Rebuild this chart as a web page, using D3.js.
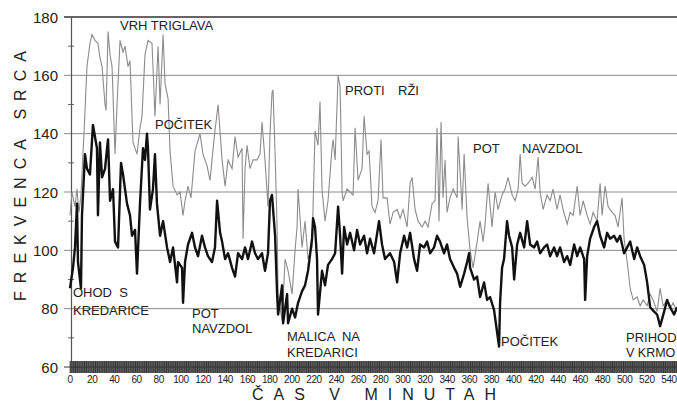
<!DOCTYPE html>
<html><head><meta charset="utf-8">
<script src="https://cdn.jsdelivr.net/npm/d3@7"></script>
<style>body{margin:0;background:#fff}svg{display:block}text{font-family:"Liberation Sans",Arial,sans-serif}</style>
</head><body><svg id="c" width="677" height="402"></svg>
<script>
const yTicks=[60,80,100,120,140,160,180];
const yMinor=[70,90,110,130,150,170];
const xTicks=d3.range(0,541,20);
const grayMin=[0,1.8,4.5,6.3,8.1,9.9,12.6,15.3,18,19.8,22.5,25.2,27,28.9,31.6,32.5,34.3,36.1,37.9,40.6,42.4,45.1,47.8,49.6,52.3,54.1,56.8,60.4,63.1,64.9,67.6,70.3,73.9,74.8,76.6,79.4,81.2,83.9,85.7,88.4,90.2,92.9,96.5,99.2,101.9,103.7,106.4,109.1,112.7,117.2,119.9,123.5,126.2,128,130.7,133.5,137.1,139.8,142.5,146.1,148.8,151.5,155.1,156,157.8,159.6,162.3,165,168.6,171.3,173.1,175.8,178.5,180.3,182.1,183,184.9,186.7,187.6,191.2,193.9,196.6,200.2,202.9,204.7,205.6,209.2,211.9,214.6,218.2,220.9,223.6,225.4,227.2,229.9,232.6,236.2,237.2,239,241.7,243.5,245.3,246.2,249.8,252.5,255.2,257,259.7,263.3,265.1,267.8,269.6,272.3,275,277.7,280.4,282.2,285.8,288.5,291.3,294.9,297.6,300.3,303.9,306.6,308.4,311.1,313.8,317.4,320.1,322.8,326.4,329.1,330.9,332.7,334.5,336.3,338.1,339.9,342.6,345.4,349,349.9,353.5,355.3,358,360.7,363.4,367,369.7,372.4,374.2,376.9,380.5,383.2,385.9,389.5,392.2,394.9,398.6,401.3,404,405.8,407.6,410.3,413,416.6,419.3,422,423.8,426.5,430.1,432.8,435.5,439.1,441.8,444.5,448.2,450.9,453.6,457.2,459.9,462.6,466.2,468.9,471.6,475.2,477.9,479.7,482.4,485.1,488.7,491.4,494.1,497.7,499.5,502.3,505,507.7,511.3,514,516.7,520.3,523,525.7,529.3,532,534.7,538.3,541,543.7,547.3];
const grayBpm=[112,120,115,121,113,119,140,163,171,174,172,171,166,163,150,148,175,167,163,133,150,172,168,170,163,165,137,133,142,146,167,172,171,163,146,170,150,174,157,152,134,122,119,120,112,117,122,118,134,140,133,129,124,131,141,150,131,122,131,128,139,132,135,104,128,136,128,131,131,133,144,131,115,140,154,155,133,108,85,76,97,93,85,100,108,121,101,110,97,101,141,136,151,121,110,117,135,138,131,160,156,120,117,121,120,119,142,124,128,146,133,134,115,113,117,138,118,118,109,113,114,111,114,108,123,125,114,110,108,110,108,116,117,142,110,144,118,131,113,118,121,118,139,114,133,111,100,94,103,110,103,109,123,108,120,114,119,121,125,119,117,121,133,123,122,123,125,121,132,120,114,119,117,121,114,119,114,109,113,112,122,112,117,112,109,113,110,123,112,122,115,113,112,108,118,104,96,87,83,84,81,83,81,85,83,79,87,81,83,80,82,79];
const blackMin=[0,2.7,4.5,6.3,7.2,9.9,10.8,13.5,15.3,18,20.7,24.3,25.2,27,28.9,31.6,33.4,34.3,36.1,38.8,40.6,43.3,46,47.8,51.4,54.1,55.9,58.6,60.4,63.1,65.8,67.6,69.4,70.3,72.1,74.8,76.6,78.4,81.2,83.9,87.5,90.2,92.9,96.5,97.4,101,101.9,103.7,106.4,110,112.7,115.4,119,121.7,124.4,128,130.7,132.6,135.3,137.1,139.8,142.5,146.1,148.8,151.5,155.1,157.8,160.5,164.1,166.8,169.5,173.1,175.8,178.5,180.3,182.1,184.9,186.7,187.6,191.2,192.1,195.7,196.6,200.2,202.9,205.6,209.2,211.9,214.6,218.2,219.1,220.9,222.7,223.6,227.2,229.9,232.6,236.2,239,241.7,243.5,245.3,247.1,249.8,252.5,256.1,258.8,261.5,265.1,267.8,270.5,274.1,278.6,281.3,284,288.5,292.2,294.9,297.6,301.2,303.9,306.6,310.2,312.9,315.6,319.2,321.9,324.6,328.2,330.9,333.6,337.2,339.9,342.6,346.3,349,351.7,355.3,358,359.8,360.7,364.3,367,369.7,373.3,376,378.7,382.3,385,386.8,387.7,389.5,391.3,394,395.8,398.6,400.4,403.1,405.8,409.4,412.1,414.8,418.4,421.1,423.8,427.4,430.1,432.8,436.4,439.1,441.8,445.4,448.2,450.9,454.5,457.2,459.9,463.5,464.4,466.2,468.9,472.5,475.2,477.9,481.5,484.2,486.9,490.5,493.2,495.9,499.5,502.3,505,508.6,511.3,514,517.6,520.3,523,526.6,529.3,532,535.6,538.3,541,544.6,547.3];
const blackBpm=[87,94,101,116,96,87,112,133,128,126,143,135,112,137,125,128,135,138,117,121,103,101,130,126,116,112,105,107,92,116,135,131,140,135,114,121,133,116,105,110,101,96,101,89,96,94,82,96,102,106,101,98,105,101,98,96,101,117,106,103,97,99,94,91,99,97,101,97,103,99,97,99,93,99,117,119,105,85,78,88,75,85,75,80,77,82,86,88,93,104,111,108,97,78,93,88,95,97,99,115,105,92,108,102,106,100,107,102,105,99,104,99,110,102,97,99,96,89,99,105,101,106,97,93,102,101,103,99,101,105,103,99,102,97,94,92,87.5,92,96,99,94,90,91,84,89,83,84,79.5,72,67,82,94,97,110,105,101,90,102,106,101,110,102,101,103,99,101,102,98,101,98,101,96,98,95,102,98,101,97,83,98,104,108,110,105,101,106,104,105,103,105,99,101,103,97,101,98,95,89,80.5,79,78,74,79,83,80.5,78,80.5];
const notes=[
 {t:"VRH TRIGLAVA",x:120,y:30,s:13},{t:"POČITEK",x:155,y:129,s:13},
 {t:"OHOD  S",x:73,y:297,s:13},{t:"KREDARICE",x:73,y:315,s:13},
 {t:"POT",x:192,y:318,s:13},{t:"NAVZDOL",x:192,y:333,s:13},
 {t:"MALICA  NA",x:287,y:341,s:13},{t:"KREDARICI",x:287,y:357,s:13},
 {t:"PROTI",x:345,y:95,s:13},{t:"RŽI",x:398,y:95,s:13},
 {t:"POT",x:473,y:153,s:13},{t:"NAVZDOL",x:522,y:153,s:13},
 {t:"POČITEK",x:501,y:346,s:13},{t:"PRIHOD",x:626,y:342,s:13},{t:"V KRMO",x:626,y:357,s:12.5}];

const svg=d3.select("#c");
const x=d3.scaleLinear().domain([0,540]).range([70,669]);
const y=d3.scaleLinear().domain([60,180]).range([367,17]);
const xMax=x.invert(677);
svg.append("g").selectAll("line").data(yTicks.filter(v=>v>60)).join("line")
 .attr("x1",64).attr("x2",677).attr("y1",d=>y(d)).attr("y2",d=>y(d))
 .attr("stroke",d=>d===180?"#333":"#8a8a8a").attr("stroke-width",d=>d===180?1.3:1);
svg.append("g").selectAll("line").data(yMinor).join("line")
 .attr("x1",68).attr("x2",74).attr("y1",d=>y(d)).attr("y2",d=>y(d)).attr("stroke","#666");
svg.append("line").attr("x1",71.5).attr("x2",71.5).attr("y1",y(180)).attr("y2",y(60)).attr("stroke","#555").attr("stroke-width",1.2);
svg.append("rect").attr("x",70).attr("y",361).attr("width",607).attr("height",12).attr("fill","#6a6a6a");
svg.append("g").selectAll("line").data(d3.range(0,Math.floor(xMax)+1,1)).join("line")
 .attr("x1",d=>x(d)).attr("x2",d=>x(d)).attr("y1",361).attr("y2",373)
 .attr("stroke",(d,i)=>i%2?"#2a2a2a":"#555").attr("stroke-width",0.8);
svg.append("line").attr("x1",64).attr("x2",677).attr("y1",y(60)).attr("y2",y(60)).attr("stroke","#333");
svg.append("g").selectAll("text").data(yTicks).join("text")
 .attr("x",58).attr("y",d=>y(d)+5.5).attr("text-anchor","end")
 .attr("font-size",15).attr("fill","#222").text(d=>d);
svg.append("g").selectAll("text").data(xTicks).join("text")
 .attr("x",d=>x(d)).attr("y",382.5).attr("text-anchor","middle")
 .attr("font-size",10).attr("letter-spacing",-0.4).attr("fill","#222").text(d=>d);
const line=d3.line().x(d=>x(d[0])).y(d=>y(d[1]));
svg.append("path").datum(d3.zip(grayMin,grayBpm)).attr("d",line)
 .attr("fill","none").attr("stroke","#8c8c8c").attr("stroke-width",1.1);
svg.append("path").datum(d3.zip(blackMin,blackBpm)).attr("d",line)
 .attr("fill","none").attr("stroke","#111").attr("stroke-width",2.4).attr("stroke-linejoin","round");
svg.append("g").selectAll("text").data(notes).join("text")
 .attr("x",d=>d.x).attr("y",d=>d.y).attr("font-size",d=>d.s).attr("fill","#222")
 .attr("xml:space","preserve").style("white-space","pre").text(d=>d.t);
svg.append("text").attr("transform","translate(26,172) rotate(-90)").attr("text-anchor","middle")
 .attr("font-size",16).attr("letter-spacing",8).attr("fill","#222").text("FREKVENCA SRCA");
svg.append("text").attr("x",379).attr("y",400).attr("text-anchor","middle")
 .attr("font-size",16).attr("letter-spacing",10).attr("fill","#222").text("ČAS V MINUTAH");
</script></body></html>
